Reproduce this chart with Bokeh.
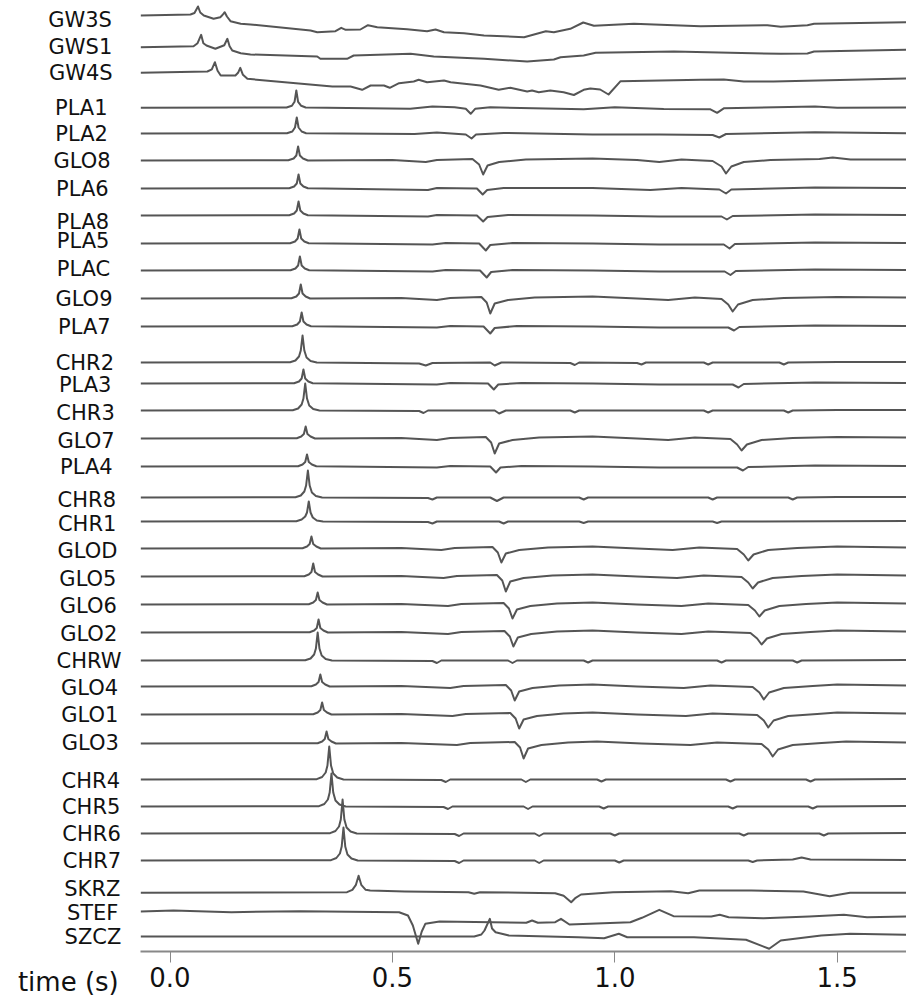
from bokeh.plotting import figure
from bokeh.layouts import row
from bokeh.models import Range1d, FixedTicker, LinearAxis, PrintfTickFormatter
from bokeh.core.properties import value
from bokeh.embed import file_html
from bokeh.resources import INLINE

# ---------------- data ----------------
STATIONS = ["GW3S", "GWS1", "GW4S", "PLA1", "PLA2", "GLO8", "PLA6", "PLA8", "PLA5", "PLAC",
            "GLO9", "PLA7", "CHR2", "PLA3", "CHR3", "GLO7", "PLA4", "CHR8", "CHR1", "GLOD",
            "GLO5", "GLO6", "GLO2", "CHRW", "GLO4", "GLO1", "GLO3", "CHR4", "CHR5", "CHR6",
            "CHR7", "SKRZ", "STEF", "SZCZ"]
# trace offsets (section position of each station)
OFFSETS = [15, 46.7, 72.3, 107.3, 133, 160, 188, 215, 243, 270,
           298, 326, 362, 383, 410, 438, 466, 497, 521, 548,
           576, 604, 632, 660, 686, 714, 743, 779, 806, 833,
           860, 892.3, 911, 936]
# vertical position of each station name
LABEL_Y = [19, 46, 72, 107, 133, 160, 188, 221, 240, 268,
           298, 326, 362, 384, 412, 440, 466, 499, 523, 550,
           578, 605, 633, 660, 687, 714, 742, 780, 806, 833,
           860, 888, 912, 936]

TICKS = [0.0, 0.5, 1.0, 1.5]
X_LABEL = "time (s)"

# (time s, amplitude up) samples
GW3S = [(-0.066,0),(0.046,1),(0.055,2.5),(0.063,9),(0.068,3),(0.076,0),(0.098,-3.3),(0.113,-1.7),(0.118,0.5),(0.123,3.3),(0.128,-1),(0.136,-5.7),(0.159,-8.3),(0.181,-9),(0.316,-15),(0.331,-16.7),(0.372,-15.7),(0.385,-12.3),(0.395,-14.3),(0.428,-14),(0.445,-9.7),(0.466,-11.7),(0.533,-13.7),(0.578,-15.7),(0.597,-14),(0.616,-16.7),(0.661,-17.7),(0.706,-20),(0.796,-21.7),(0.845,-15.7),(0.863,-16.7),(0.9,-13.3),(0.929,-7),(0.953,-10.3),(1.043,-8.3),(1.193,-10.7),(1.343,-9.7),(1.373,-11.3),(1.433,-9.7),(1.448,-8.3),(1.656,-6.7)]
GWS1 = [(-0.066,0),(0.053,1),(0.062,4),(0.07,12.4),(0.075,4),(0.082,1.7),(0.102,-1.6),(0.122,2),(0.129,8.4),(0.134,1),(0.14,-3.3),(0.159,-6),(0.181,-7.3),(0.331,-9.3),(0.338,-11.6),(0.398,-11.6),(0.413,-8.3),(0.541,-6.6),(0.593,-9.3),(0.706,-11.6),(0.803,-14.3),(0.863,-12.3),(0.878,-10),(0.93,-8.3),(0.957,-5.6),(1.133,-4.3),(1.373,-6.6),(1.433,-6.3),(1.448,-4.3),(1.656,-2.6)]
GW4S = [(-0.066,0),(0.084,1.3),(0.094,3.5),(0.101,10.6),(0.107,2),(0.114,-2.7),(0.147,-2.7),(0.153,0),(0.158,5),(0.164,-2),(0.174,-6),(0.365,-13.7),(0.406,-13.7),(0.432,-17),(0.451,-12.7),(0.481,-12.7),(0.494,-15),(0.515,-10.4),(0.548,-8.7),(0.559,-7),(0.578,-9.4),(0.616,-7.7),(0.631,-9.4),(0.698,-12.7),(0.739,-17),(0.765,-15),(0.803,-18.7),(0.814,-17.7),(0.829,-19.4),(0.855,-17.7),(0.885,-19.4),(0.908,-22.2),(0.93,-17),(0.945,-15.7),(0.967,-16.7),(0.986,-21.7),(1.013,-8.4),(1.193,-7),(1.245,-6.7),(1.29,-8.7),(1.357,-8.7),(1.656,-5.7)]
PLA1 = [(-0.066,0),(0.262,0.3),(0.274,2),(0.28,6),(0.284,17.3),(0.288,6),(0.295,2),(0.305,0.3),(0.54,-1),(0.59,1.3),(0.64,0.5),(0.665,-1),(0.676,-6),(0.686,-1),(0.72,0.5),(0.93,-1.5),(1.0,0.5),(1.11,-1.3),(1.215,-1.5),(1.23,-5),(1.245,-0.5),(1.45,1.3),(1.5,0),(1.656,0.3)]
PLA2 = [(-0.066,0),(0.263,0.3),(0.275,2),(0.281,6),(0.285,16),(0.289,6),(0.296,2),(0.306,0.3),(0.55,-0.5),(0.6,1),(0.665,-1),(0.678,-5),(0.688,-1),(0.75,0.5),(0.95,-1),(1.1,-1),(1.22,-1.5),(1.235,-4),(1.25,-0.5),(1.45,1.2),(1.656,0.3)]
GLO8 = [(-0.066,0),(0.266,0.3),(0.278,2),(0.284,5),(0.288,14),(0.292,5),(0.299,2),(0.31,0),(0.5,0.5),(0.575,-1.5),(0.6,0.5),(0.68,1.5),(0.695,-4),(0.704,-14),(0.714,-5),(0.74,-1.5),(0.8,1),(0.95,2),(1.05,0.5),(1.1,-1.5),(1.15,1),(1.22,-0.5),(1.24,-6),(1.25,-13),(1.262,-6),(1.29,-1.5),(1.35,0.5),(1.46,1.5),(1.49,3),(1.53,1),(1.656,1)]
PLA6 = [(-0.066,0),(0.268,0.3),(0.279,2),(0.285,5),(0.289,14),(0.293,5),(0.3,2),(0.31,0.3),(0.58,-1.5),(0.6,0.5),(0.69,0),(0.703,-6),(0.713,-1.5),(0.75,0.5),(0.95,0.5),(1.08,-1.5),(1.15,0.5),(1.235,-1),(1.25,-5),(1.262,-1),(1.45,1),(1.656,0.5)]
PLA8 = [(-0.066,0),(0.268,0.3),(0.279,2),(0.285,5),(0.289,14),(0.293,5),(0.3,2),(0.31,0.3),(0.58,-1),(0.6,0.5),(0.69,0),(0.704,-6),(0.714,-1.5),(0.76,0.5),(0.95,0),(1.1,-1),(1.24,-1),(1.252,-4),(1.265,-0.5),(1.45,1),(1.656,0.5)]
PLA5 = [(-0.066,0),(0.27,0.3),(0.281,2),(0.287,5),(0.291,14),(0.295,5),(0.302,2),(0.312,0.3),(0.59,-1),(0.62,0.5),(0.695,0),(0.71,-7),(0.72,-1.5),(0.77,0.5),(0.95,0),(1.1,-1),(1.245,-1),(1.258,-5),(1.27,-0.5),(1.45,1),(1.656,0.5)]
PLAC = [(-0.066,0),(0.271,0.3),(0.282,2),(0.288,5),(0.292,14),(0.296,5),(0.303,2),(0.313,0.3),(0.59,-1),(0.62,0.5),(0.697,0),(0.712,-7),(0.722,-1.5),(0.77,0.5),(0.95,0),(1.1,-1),(1.247,-1),(1.26,-4.5),(1.272,-0.5),(1.45,1),(1.656,0.5)]
GLO9 = [(-0.066,0),(0.273,0.3),(0.284,2),(0.29,5),(0.294,14),(0.298,5),(0.305,2),(0.315,0),(0.52,0.5),(0.6,-1.5),(0.63,0.5),(0.7,1.5),(0.712,-4),(0.72,-15),(0.73,-5),(0.76,-1.5),(0.82,1),(0.95,2),(1.05,0),(1.12,-1.5),(1.18,1),(1.24,-0.5),(1.255,-6),(1.265,-13),(1.277,-6),(1.31,-1.5),(1.38,0.5),(1.5,1.5),(1.656,1)]
PLA7 = [(-0.066,0),(0.275,0.3),(0.286,2),(0.292,5),(0.296,14),(0.3,5),(0.307,2),(0.317,0.3),(0.6,-1),(0.63,0.5),(0.705,0),(0.72,-7),(0.73,-1.5),(0.78,0.5),(0.95,0),(1.1,-1),(1.255,-1),(1.268,-4),(1.28,-0.5),(1.45,1),(1.656,0.5)]
CHR2 = [(-0.066,0),(0.27,0.3),(0.282,2),(0.29,6),(0.294,12),(0.298,27),(0.302,12),(0.307,5),(0.316,1.5),(0.33,0),(0.56,-1),(0.575,-3),(0.59,-0.5),(0.72,0),(0.73,-3),(0.745,0),(0.9,-0.5),(0.91,-2.5),(0.92,0),(1.05,-0.5),(1.06,-2),(1.07,0),(1.2,0),(1.21,-2),(1.22,0),(1.37,0),(1.38,-2),(1.39,0),(1.5,0.5),(1.656,0.5)]
PLA3 = [(-0.066,0),(0.279,0.3),(0.29,2),(0.296,5),(0.3,14),(0.304,5),(0.311,2),(0.321,0.3),(0.6,-1),(0.63,0.5),(0.715,0),(0.728,-6),(0.738,-1),(0.79,0.5),(0.95,0),(1.1,-1),(1.265,-1),(1.278,-4),(1.29,-0.5),(1.45,1),(1.656,0.5)]
CHR3 = [(-0.066,0),(0.276,0.3),(0.288,2),(0.296,6),(0.3,12),(0.304,27),(0.308,12),(0.313,5),(0.322,1.5),(0.336,0),(0.56,-0.5),(0.57,-2.5),(0.58,0),(0.73,0),(0.74,-3),(0.755,0),(0.9,0),(0.91,-2),(0.92,0),(1.2,0),(1.21,-2),(1.22,0),(1.38,0),(1.39,-2),(1.4,0),(1.5,0.5),(1.656,0.5)]
GLO7 = [(-0.066,0),(0.285,0.3),(0.295,2),(0.301,4.5),(0.305,12),(0.309,4.5),(0.316,2),(0.326,0),(0.52,0.5),(0.6,-1.5),(0.63,0.5),(0.71,1.5),(0.722,-4),(0.73,-15),(0.74,-5),(0.77,-1.5),(0.83,1),(0.95,2),(1.05,0),(1.12,-1.5),(1.18,1),(1.26,-0.5),(1.275,-6),(1.285,-12),(1.297,-6),(1.33,-1.5),(1.4,0.5),(1.5,1.5),(1.656,1)]
PLA4 = [(-0.066,0),(0.288,0.3),(0.298,2),(0.304,4.5),(0.308,12),(0.312,4.5),(0.319,2),(0.329,0.3),(0.6,-1),(0.63,0.5),(0.72,0),(0.733,-6),(0.743,-1),(0.79,0.5),(0.95,0),(1.1,-1),(1.275,-1),(1.288,-4),(1.3,-0.5),(1.45,1),(1.656,0.5)]
CHR8 = [(-0.066,0),(0.282,0.3),(0.294,2),(0.302,6),(0.306,12),(0.31,27),(0.314,12),(0.319,5),(0.328,1.5),(0.342,0),(0.58,-0.5),(0.59,-2),(0.6,0),(0.72,0),(0.735,-3.5),(0.75,0),(0.92,0),(0.93,-2),(0.94,0),(1.21,0),(1.22,-2),(1.23,0),(1.39,0),(1.4,-2),(1.41,0),(1.5,0.5),(1.656,0.5)]
CHR1 = [(-0.066,0),(0.284,0.3),(0.296,2),(0.304,5),(0.308,9),(0.312,20),(0.316,9),(0.321,4),(0.33,1),(0.344,0),(0.58,-0.5),(0.59,-2),(0.6,0),(0.74,0),(0.75,-2),(0.76,0),(0.92,0),(0.93,-1.5),(0.94,0),(1.22,0),(1.23,-1.5),(1.24,0),(1.656,0.5)]
GLOD = [(-0.066,0),(0.298,0.3),(0.308,2),(0.314,4.5),(0.318,12),(0.322,4.5),(0.329,2),(0.339,0),(0.52,0.5),(0.61,-1.5),(0.64,0.5),(0.725,1.5),(0.737,-4),(0.745,-14),(0.755,-5),(0.785,-1.5),(0.85,1),(0.95,2),(1.05,0),(1.13,-1.5),(1.19,1),(1.275,-0.5),(1.29,-6),(1.3,-12),(1.312,-6),(1.345,-1.5),(1.41,0.5),(1.5,2),(1.656,1)]
GLO5 = [(-0.066,0),(0.302,0.3),(0.312,2),(0.318,4.5),(0.322,13),(0.326,4.5),(0.333,2),(0.343,0),(0.52,0.5),(0.615,-1.5),(0.645,0.5),(0.735,1.5),(0.747,-4),(0.755,-15),(0.765,-5),(0.795,-1.5),(0.86,1),(0.95,2),(1.05,0),(1.14,-1.5),(1.2,1),(1.285,-0.5),(1.3,-6),(1.31,-12),(1.322,-6),(1.355,-1.5),(1.42,0.5),(1.5,2),(1.656,1)]
GLO6 = [(-0.066,0),(0.312,0.3),(0.322,2),(0.328,4.5),(0.332,12),(0.336,4.5),(0.343,2),(0.353,0),(0.52,0.5),(0.625,-1.5),(0.655,0.5),(0.75,1.5),(0.762,-4),(0.77,-14),(0.78,-5),(0.81,-1.5),(0.87,1),(0.95,2),(1.05,0),(1.15,-1.5),(1.21,1),(1.3,-0.5),(1.315,-6),(1.325,-12),(1.337,-6),(1.37,-1.5),(1.43,0.5),(1.5,2),(1.656,1)]
GLO2 = [(-0.066,0),(0.314,0.3),(0.324,2),(0.33,4.5),(0.334,13),(0.338,4.5),(0.345,2),(0.355,0),(0.52,0.5),(0.625,-1.5),(0.655,0.5),(0.752,1.5),(0.764,-4),(0.772,-14),(0.782,-5),(0.812,-1.5),(0.87,1),(0.95,2),(1.05,0),(1.15,-1.5),(1.21,1),(1.305,-0.5),(1.32,-6),(1.33,-12),(1.342,-6),(1.375,-1.5),(1.44,0.5),(1.5,2),(1.656,1)]
CHRW = [(-0.066,0),(0.304,0.3),(0.316,2),(0.324,6),(0.328,12),(0.332,28),(0.336,12),(0.341,5),(0.35,1.5),(0.364,0),(0.59,-0.5),(0.6,-2.5),(0.61,0),(0.76,0),(0.77,-2.5),(0.78,0),(0.93,0),(0.94,-2),(0.95,0),(1.23,0),(1.24,-2),(1.25,0),(1.4,0),(1.41,-2),(1.42,0),(1.656,0.5)]
GLO4 = [(-0.066,0),(0.318,0.3),(0.328,2),(0.334,4.5),(0.338,12),(0.342,4.5),(0.349,2),(0.359,0),(0.52,0.5),(0.63,-1.5),(0.66,0.5),(0.755,1.5),(0.767,-4),(0.775,-14),(0.785,-5),(0.815,-1.5),(0.875,1),(0.95,2),(1.05,0),(1.155,-1.5),(1.215,1),(1.31,-0.5),(1.325,-6),(1.335,-13),(1.347,-6),(1.38,-1.5),(1.445,0.5),(1.5,2),(1.656,1)]
GLO1 = [(-0.066,0),(0.322,0.3),(0.332,2),(0.338,4.5),(0.342,12),(0.346,4.5),(0.353,2),(0.363,0),(0.52,0.5),(0.635,-1.5),(0.665,0.5),(0.765,1.5),(0.777,-4),(0.785,-14),(0.795,-5),(0.825,-1.5),(0.885,1),(0.95,2),(1.05,0),(1.16,-1.5),(1.22,1),(1.32,-0.5),(1.335,-6),(1.345,-13),(1.357,-6),(1.39,-1.5),(1.455,0.5),(1.5,2),(1.656,1)]
GLO3 = [(-0.066,0),(0.332,0.3),(0.342,2),(0.348,4.5),(0.352,12),(0.356,4.5),(0.363,2),(0.373,0),(0.52,0.5),(0.645,-1.5),(0.675,0.5),(0.775,1.5),(0.787,-4),(0.795,-15),(0.805,-5),(0.835,-1.5),(0.895,1),(0.96,2),(1.06,0),(1.17,-1.5),(1.23,1),(1.33,-0.5),(1.345,-6),(1.355,-13),(1.367,-6),(1.4,-1.5),(1.465,0.5),(1.52,2),(1.656,1)]
CHR4 = [(-0.066,0),(0.33,0.3),(0.342,2.5),(0.35,7),(0.354,14),(0.358,33),(0.362,14),(0.367,6),(0.376,2),(0.39,0),(0.61,-0.5),(0.62,-2.5),(0.63,0),(0.79,0),(0.8,-2.5),(0.81,0),(0.96,0),(0.97,-2),(0.98,0),(1.25,0),(1.26,-2),(1.27,0),(1.43,0),(1.44,-2),(1.45,0),(1.656,0.5)]
CHR5 = [(-0.066,0),(0.335,0.3),(0.347,2.5),(0.355,7),(0.359,14),(0.363,33),(0.367,14),(0.372,6),(0.381,2),(0.395,0),(0.615,-0.5),(0.625,-2.5),(0.635,0),(0.795,0),(0.805,-2.5),(0.815,0),(0.965,0),(0.975,-2),(0.985,0),(1.255,0),(1.265,-2),(1.275,0),(1.435,0),(1.445,-2),(1.455,0),(1.656,0.5)]
CHR6 = [(-0.066,0),(0.36,0.3),(0.372,2.5),(0.38,7),(0.384,14),(0.388,34),(0.392,14),(0.397,6),(0.406,2),(0.42,0),(0.64,-0.5),(0.65,-2.5),(0.66,0),(0.82,0),(0.83,-2.5),(0.84,0),(0.99,0),(1.0,-2),(1.01,0),(1.28,0),(1.29,-2),(1.3,0),(1.46,0),(1.47,-2),(1.48,0),(1.656,0.5)]
CHR7 = [(-0.066,0),(0.362,0.3),(0.374,2.5),(0.382,7),(0.386,14),(0.39,33),(0.394,14),(0.399,6),(0.408,2),(0.422,0),(0.64,-0.5),(0.65,-2.5),(0.66,0),(0.82,0),(0.83,-2.5),(0.84,0),(1.0,0),(1.01,-2),(1.02,0),(1.3,0),(1.31,-1.5),(1.32,0),(1.4,1),(1.42,3),(1.44,1),(1.656,0.5)]
SKRZ = [(-0.066,0),(0.398,0.6),(0.41,3),(0.418,8),(0.424,17),(0.43,8),(0.44,3),(0.45,2.3),(0.528,1.3),(0.671,0.6),(0.684,-1),(0.697,0.6),(0.866,-0.4),(0.885,-3),(0.902,-9.4),(0.912,-5),(0.924,-1.7),(0.996,0.6),(1.126,1.6),(1.165,-0.4),(1.19,2.3),(1.307,2.3),(1.424,1.3),(1.483,-3.4),(1.529,0),(1.656,0)]
STEF = [(-0.066,0),(0.008,1),(0.138,-0.7),(0.293,0.3),(0.515,-0.7),(0.535,-4),(0.546,-14),(0.558,-32.3),(0.566,-20),(0.574,-12.3),(0.606,-10),(0.801,-11.3),(0.814,-9),(0.827,-11.3),(0.866,-10.7),(0.879,-7.3),(0.898,-13),(1.035,-10.7),(1.061,-6.3),(1.1,1.7),(1.132,-4.7),(1.217,-5),(1.236,-3.3),(1.256,-5.7),(1.334,-6.7),(1.437,-5),(1.515,-3.3),(1.567,-5.7),(1.656,-5)]
SZCZ = [(-0.066,0),(0.684,0),(0.7,2),(0.707,6),(0.719,17.7),(0.724,8),(0.732,4.3),(0.762,1),(0.918,-0.7),(0.976,-1.7),(1.009,2.7),(1.028,-0.7),(1.178,-0.7),(1.295,-3.3),(1.347,-12.3),(1.373,-4),(1.464,1),(1.529,2.7),(1.656,1.7)]

TRACES = [GW3S, GWS1, GW4S, PLA1, PLA2, GLO8, PLA6, PLA8, PLA5, PLAC,
          GLO9, PLA7, CHR2, PLA3, CHR3, GLO7, PLA4, CHR8, CHR1, GLOD,
          GLO5, GLO6, GLO2, CHRW, GLO4, GLO1, GLO3, CHR4, CHR5, CHR6,
          CHR7, SKRZ, STEF, SZCZ]

# ---------------- layout ----------------
PX_PER_S = 444.8
T_ZERO_PX = 169.5          # screen x of t = 0
LEFT_W = 140               # width of the label strip
MAIN_W = 766
H = 1000
AXIS_H = 49
FRAME_H = H - AXIS_H
FONT = "DejaVu Sans"
TICK_OUT = 11
STANDOFF = 4

def t_at(px):
    return (px - T_ZERO_PX) / PX_PER_S

def base_fig(width, x0px, x1px):
    f = figure(width=width, height=H, x_range=Range1d(t_at(x0px), t_at(x1px)),
               y_range=Range1d(FRAME_H, 0), output_backend="svg", toolbar_location=None,
               x_axis_location=None, y_axis_location=None,
               min_border_left=0, min_border_right=0, min_border_top=0, min_border_bottom=AXIS_H,
               outline_line_color=None, background_fill_color="white")
    f.grid.visible = False
    return f

# --- label strip (station names + axis title), continues the time scale to the left
lp = base_fig(LEFT_W, 0, LEFT_W)
y0, y1 = LABEL_Y[0], LABEL_Y[-1]
lab_x = [t_at(79.5 + 13.0 * (y - y0) / (y1 - y0)) for y in LABEL_Y]
lp.text(x=lab_x, y=LABEL_Y, text=STATIONS, text_align="center", text_baseline="middle",
        text_font=value(FONT), text_font_size="21px", text_color="#111111")

t_lab = round(t_at(67.8), 4)
lax = LinearAxis(ticker=FixedTicker(ticks=[t_lab]), major_label_overrides={t_lab: X_LABEL})
lax.axis_line_color = None
lax.major_tick_line_color = None
lax.minor_tick_line_color = None
lax.major_tick_out = TICK_OUT
lax.major_tick_in = 0
lax.major_label_standoff = STANDOFF
lax.major_label_text_font = FONT
lax.major_label_text_font_size = "26px"
lax.major_label_text_color = "#111111"
lp.add_layout(lax, "below")

# --- record section
p = base_fig(MAIN_W, LEFT_W, LEFT_W + MAIN_W)
xs = [[pt[0] for pt in tr] for tr in TRACES]
ys = [[off - pt[1] for pt in tr] for tr, off in zip(TRACES, OFFSETS)]
p.multi_line(xs=xs, ys=ys, line_color="#555555", line_width=2, line_join="round")

ax = LinearAxis(ticker=FixedTicker(ticks=TICKS), formatter=PrintfTickFormatter(format="%.1f"))
ax.axis_line_color = "#888888"
ax.axis_line_width = 2
ax.major_tick_line_color = "#888888"
ax.major_tick_line_width = 1
ax.major_tick_out = TICK_OUT
ax.major_tick_in = 0
ax.minor_tick_out = 0
ax.minor_tick_in = 0
ax.major_label_standoff = STANDOFF
ax.major_label_text_font = FONT
ax.major_label_text_font_size = "26px"
ax.major_label_text_color = "#111111"
p.add_layout(ax, "below")

layout = row(lp, p, spacing=0)
open("out.html", "w").write(file_html(layout, INLINE))
